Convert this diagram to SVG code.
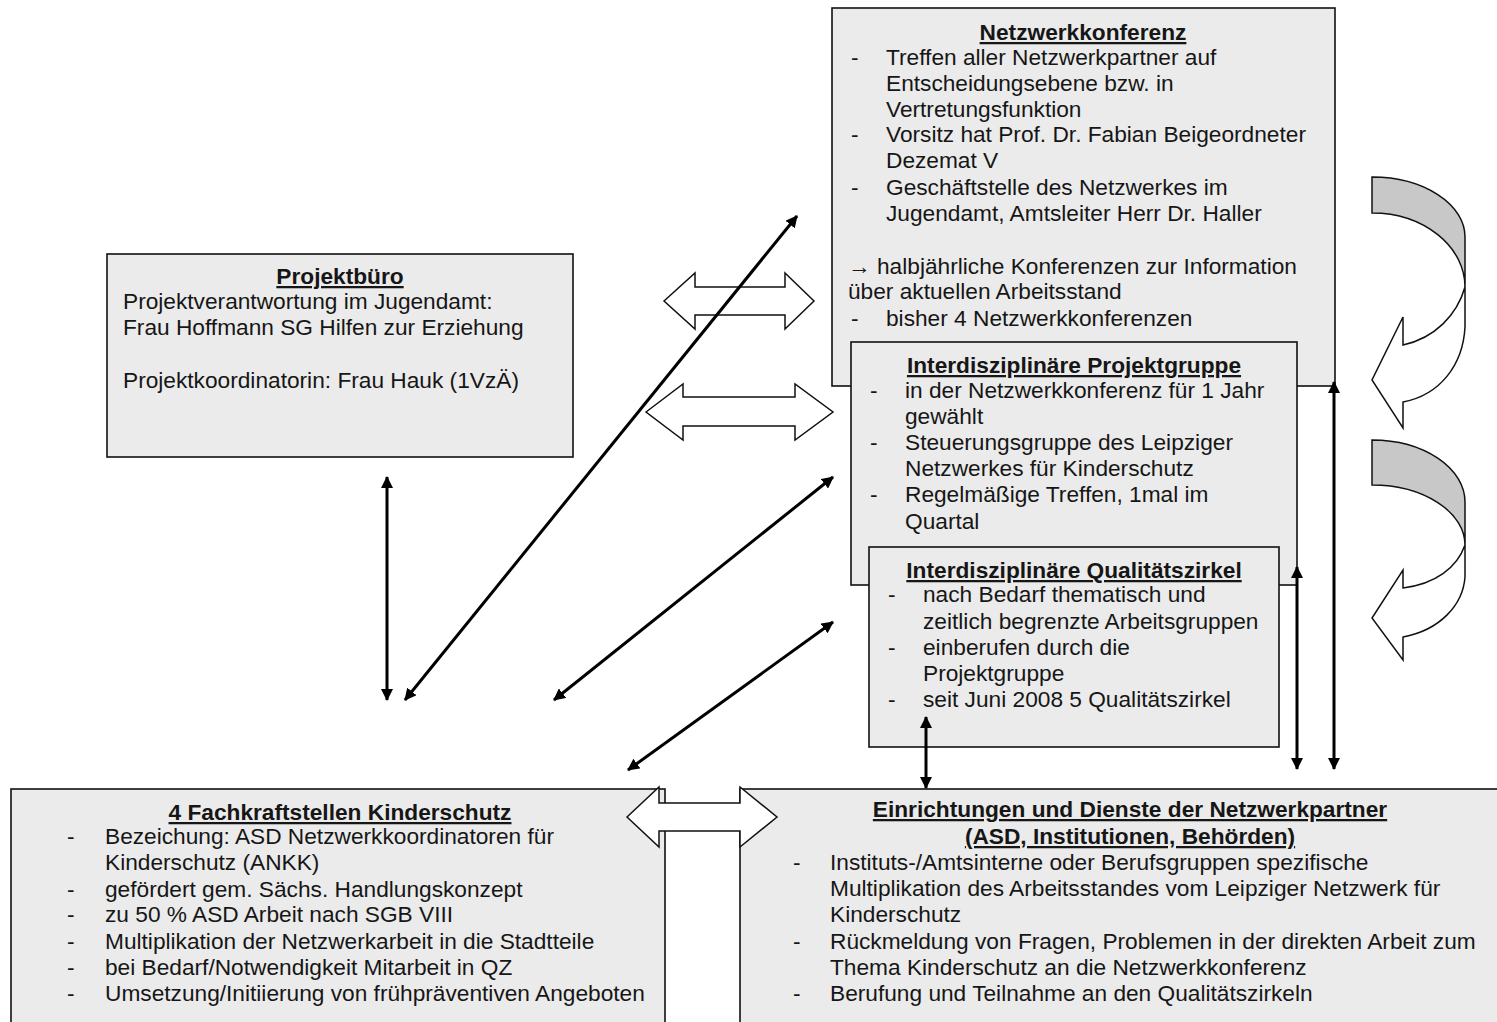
<svg xmlns="http://www.w3.org/2000/svg" width="1497" height="1022" viewBox="0 0 1497 1022">
<defs>
<style>
.box{fill:#ebebeb;stroke:#111;stroke-width:1.6}
.t{font-family:"Liberation Sans",Arial,sans-serif;font-size:22.7px;fill:#161616}
.h{font-family:"Liberation Sans",Arial,sans-serif;font-size:22.7px;font-weight:bold;fill:#161616;text-decoration:underline;text-anchor:middle}
.wa{fill:#fff;stroke:#111;stroke-width:1.5;stroke-linejoin:miter}
.ga{fill:#c8c8c8;stroke:#111;stroke-width:1.5}
.c{stroke:#000;stroke-width:3;fill:none;marker-start:url(#ah);marker-end:url(#ah)}
</style>
<marker id="ah" viewBox="0 0 12 12" refX="11" refY="6" markerWidth="12" markerHeight="12" markerUnits="userSpaceOnUse" orient="auto-start-reverse"><path d="M0,0 L12,6 L0,12 Z" fill="#000"/></marker>
</defs>
<rect width="1497" height="1022" fill="#fff"/>

<g id="netzwerkkonferenz">
<rect class="box" x="832" y="8" width="503" height="378"/>
<text class="h" x="1083" y="40">Netzwerkkonferenz</text>
<text class="t" x="851" y="65">-</text><text class="t" x="886" y="65">Treffen aller Netzwerkpartner auf</text>
<text class="t" x="886" y="91">Entscheidungsebene bzw. in</text>
<text class="t" x="886" y="117">Vertretungsfunktion</text>
<text class="t" x="851" y="142">-</text><text class="t" x="886" y="142">Vorsitz hat Prof. Dr. Fabian Beigeordneter</text>
<text class="t" x="886" y="168">Dezemat V</text>
<text class="t" x="851" y="195">-</text><text class="t" x="886" y="195">Geschäftstelle des Netzwerkes im</text>
<text class="t" x="886" y="221">Jugendamt, Amtsleiter Herr Dr. Haller</text>
<text class="t" x="848" y="274">→ halbjährliche Konferenzen zur Information</text>
<text class="t" x="848" y="299">über aktuellen Arbeitsstand</text>
<text class="t" x="851" y="326">-</text><text class="t" x="886" y="326">bisher 4 Netzwerkkonferenzen</text>
</g>

<g id="projektgruppe">
<rect class="box" x="851" y="342" width="446" height="243"/>
<text class="h" x="1074" y="373">Interdisziplinäre Projektgruppe</text>
<text class="t" x="870" y="398">-</text><text class="t" x="905" y="398">in der Netzwerkkonferenz für 1 Jahr</text>
<text class="t" x="905" y="424">gewählt</text>
<text class="t" x="870" y="450">-</text><text class="t" x="905" y="450">Steuerungsgruppe des Leipziger</text>
<text class="t" x="905" y="476">Netzwerkes für Kinderschutz</text>
<text class="t" x="870" y="502">-</text><text class="t" x="905" y="502">Regelmäßige Treffen, 1mal im</text>
<text class="t" x="905" y="529">Quartal</text>
</g>

<g id="qualitaetszirkel">
<rect class="box" x="869" y="547" width="410" height="200"/>
<text class="h" x="1074" y="578">Interdisziplinäre Qualitätszirkel</text>
<text class="t" x="888" y="602">-</text><text class="t" x="923" y="602">nach Bedarf thematisch und</text>
<text class="t" x="923" y="629">zeitlich begrenzte Arbeitsgruppen</text>
<text class="t" x="888" y="655">-</text><text class="t" x="923" y="655">einberufen durch die</text>
<text class="t" x="923" y="681">Projektgruppe</text>
<text class="t" x="888" y="707">-</text><text class="t" x="923" y="707">seit Juni 2008 5 Qualitätszirkel</text>
</g>

<g id="projektbuero">
<rect class="box" x="107" y="254" width="466" height="203"/>
<text class="h" x="340" y="284">Projektbüro</text>
<text class="t" x="123" y="309">Projektverantwortung im Jugendamt:</text>
<text class="t" x="123" y="335">Frau Hoffmann SG Hilfen zur Erziehung</text>
<text class="t" x="123" y="388">Projektkoordinatorin: Frau Hauk (1VzÄ)</text>
</g>

<g id="fachkraftstellen">
<rect class="box" x="11" y="789" width="654" height="250"/>
<text class="h" x="340" y="820">4 Fachkraftstellen Kinderschutz</text>
<text class="t" x="67" y="844">-</text><text class="t" x="105" y="844">Bezeichung: ASD Netzwerkkoordinatoren für</text>
<text class="t" x="105" y="870">Kinderschutz (ANKK)</text>
<text class="t" x="67" y="897">-</text><text class="t" x="105" y="897">gefördert  gem. Sächs. Handlungskonzept</text>
<text class="t" x="67" y="922">-</text><text class="t" x="105" y="922">zu 50 % ASD Arbeit nach SGB VIII</text>
<text class="t" x="67" y="949">-</text><text class="t" x="105" y="949">Multiplikation der Netzwerkarbeit in die Stadtteile</text>
<text class="t" x="67" y="975">-</text><text class="t" x="105" y="975">bei Bedarf/Notwendigkeit Mitarbeit in QZ</text>
<text class="t" x="67" y="1001">-</text><text class="t" x="105" y="1001">Umsetzung/Initiierung von frühpräventiven Angeboten</text>
</g>

<g id="einrichtungen">
<rect class="box" x="740" y="789" width="770" height="250"/>
<text class="h" x="1130" y="817">Einrichtungen und Dienste der Netzwerkpartner</text>
<text class="h" x="1130" y="844">(ASD, Institutionen, Behörden)</text>
<text class="t" x="793" y="870">-</text><text class="t" x="830" y="870">Instituts-/Amtsinterne oder Berufsgruppen spezifische</text>
<text class="t" x="830" y="896">Multiplikation des Arbeitsstandes vom Leipziger Netzwerk für</text>
<text class="t" x="830" y="922">Kinderschutz</text>
<text class="t" x="793" y="949">-</text><text class="t" x="830" y="949">Rückmeldung von Fragen, Problemen in der direkten Arbeit zum</text>
<text class="t" x="830" y="975">Thema Kinderschutz an die Netzwerkkonferenz</text>
<text class="t" x="793" y="1001">-</text><text class="t" x="830" y="1001">Berufung und Teilnahme an den Qualitätszirkeln</text>
</g>

<g id="connectors">
<path class="wa" d="M664,301 L695,273 L695,287 L785,287 L785,273 L814,301 L785,329 L785,315 L695,315 L695,329 Z"/>
<path class="wa" d="M646,412 L683,384 L683,397 L795,397 L795,384 L833,412 L795,440 L795,426 L683,426 L683,440 Z"/>
<path class="wa" d="M627,817 L659,787 L659,803 L740,803 L740,787 L777,817 L740,847 L740,831 L659,831 L659,847 Z"/>
<path class="wa" d="M1465,287 C1457,315 1435,338 1403,345 L1403,317 L1372,380 L1403,428 L1403,402 C1440,395 1463,365 1465,327 Z"/>
<path class="ga" d="M1372,177 A93,60 0 0 1 1465,237 L1465,287 A93,74 0 0 0 1372,213 Z"/>
<path class="wa" d="M1465,545 C1457,568 1435,584 1403,588 L1403,570 L1372,618 L1403,660 L1403,637 C1440,630 1463,605 1465,577 Z"/>
<path class="ga" d="M1372,440 A93,62 0 0 1 1465,502 L1465,545 A93,60 0 0 0 1372,485 Z"/>
<line class="c" x1="387" y1="477" x2="387" y2="700"/>
<line class="c" x1="405" y1="700" x2="797" y2="216"/>
<line class="c" x1="554" y1="700" x2="833" y2="477"/>
<line class="c" x1="628" y1="770" x2="833" y2="622"/>
<line class="c" x1="926" y1="717" x2="926" y2="788"/>
<line class="c" x1="1297" y1="567" x2="1297" y2="769"/>
<line class="c" x1="1334" y1="382" x2="1334" y2="769"/>
</g>
</svg>
